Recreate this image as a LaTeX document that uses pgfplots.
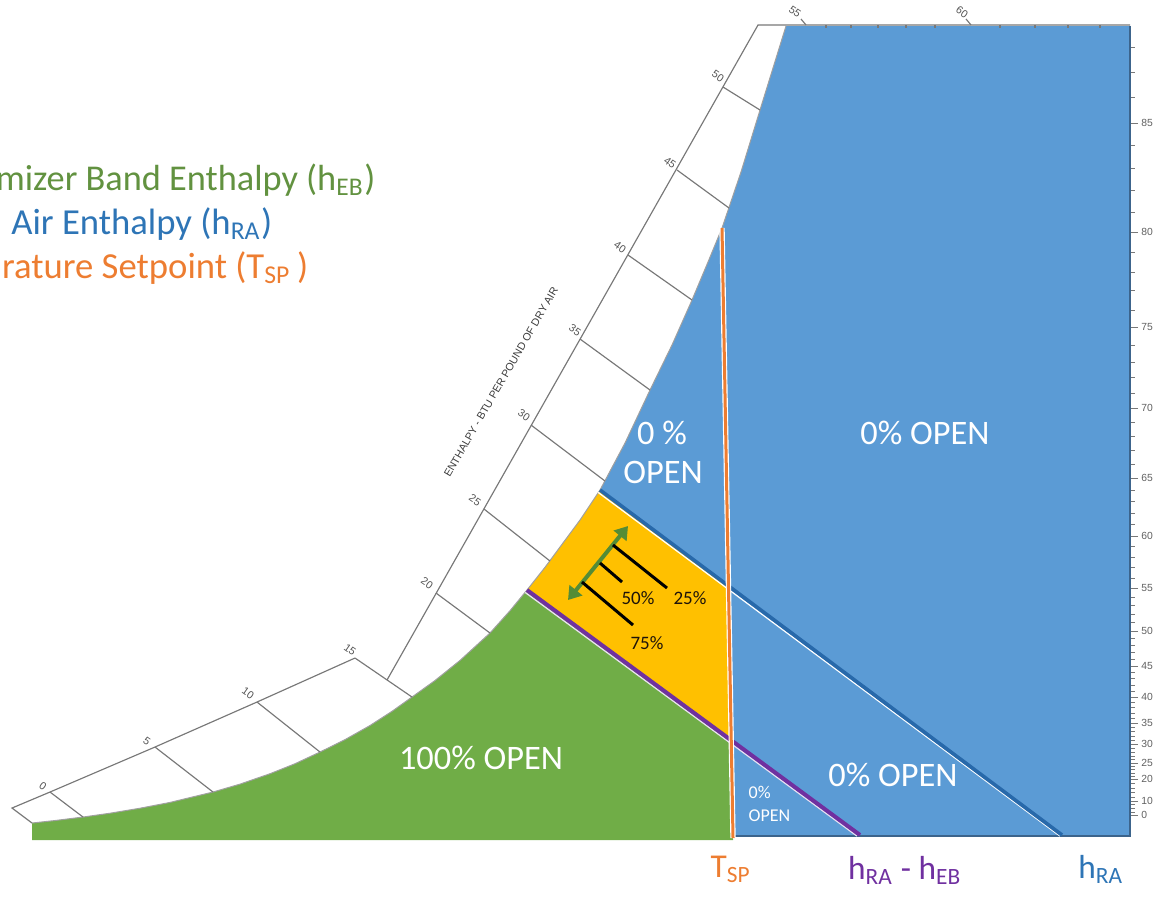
\documentclass[border=0pt]{standalone}
\usepackage{pgfplots}
\pgfplotsset{compat=1.18}
\usepackage{fontspec}
\setmainfont{Carlito}
\newfontfamily\arialf{Liberation Sans}
\usetikzlibrary{arrows.meta}

\definecolor{fillblue}{RGB}{91,155,213}
\definecolor{fillgreen}{RGB}{112,173,71}
\definecolor{fillyellow}{RGB}{255,192,0}
\definecolor{lineorange}{RGB}{237,125,49}
\definecolor{linepurple}{RGB}{112,48,160}
\definecolor{lineblue}{RGB}{40,105,170}
\definecolor{txtblue}{RGB}{46,117,182}
\definecolor{txtgreen}{RGB}{98,146,64}
\definecolor{arrowgreen}{RGB}{84,140,54}
\definecolor{chartgray}{RGB}{120,120,120}
\definecolor{edgeblue}{RGB}{60,100,140}

\newcommand\fsz[1]{\fontsize{#1}{#1}\selectfont}

\begin{document}
\begin{tikzpicture}
\begin{axis}[
    scale only axis,
    width=339pt, height=269.1pt,
    xmin=0, xmax=1130, ymin=0, ymax=897,
    y dir=reverse,
    axis x line=none,
    axis y line*=right,
    y axis line style={draw=none},
    clip=false,
    unbounded coords=jump,
    ytick={123,232,327,408,478,536,588,631,666,697,723,744,763,779,801,815},
    yticklabels={85,80,75,70,65,60,55,50,45,40,35,30,25,20,10,0},
    minor ytick={47,72,97,145,168,190,212,252,272,290,310,345,362,377,393,
        422,436,450,464,490,501,513,524,546,557,567,578,597,605,614,622,
        638,645,652,659,672,678,685,691,702,707,713,718,727,731,736,740,
        748,752,756,759,766,769,773,776,783,788,792,797,804,808,812},
    tick align=outside,
    major tick length=2.4pt,
    minor tick length=1.4pt,
    tick style={draw=chartgray, line width=0.3pt},
    yticklabel style={font=\arialf\fsz{3.1pt}, text=chartgray!80!black, inner sep=0.8pt},
]
\coordinate (BBsw) at (axis cs:0,897);
\coordinate (BBne) at (axis cs:1165,0);

% regions
\addplot[fill=fillblue, draw=none] coordinates {
    (600,490) (625,443) (650,390) (672,345) (692,300) (708,262) (722,228)
    (741,172) (760,110) (786,26) (1130,26) (1130,836) (733,836) (728.5,585.9)} -- cycle;
\addplot[fill=fillyellow, draw=none] coordinates {
    (527,590) (545,567.3) (560,547) (580,520) (600,490) (728.5,585.9) (731.2,740.3)} -- cycle;
\addplot[fill=fillgreen, draw=none] coordinates {
    (32,823) (55,820.5) (83,817) (110,813.2) (140,808.2) (170,802.4) (213,792)
    (240,784.1) (270,773.7) (295,763.7) (320,752) (345,739.6) (370,725.5)
    (392,711.3) (412,697) (435,680.5) (460,660.4) (490,633) (510,610.7)
    (527,590) (731.2,740.3) (733,840) (32,840)} -- cycle;

% borders of the chart
\addplot[edgeblue, line width=0.45pt] coordinates {(1130,26) (1130,836) (733,836)};
\addplot[chartgray!70, line width=0.3pt] coordinates {
    (32,823) (55,820.5) (83,817) (110,813.2) (140,808.2) (170,802.4) (213,792)
    (240,784.1) (270,773.7) (295,763.7) (320,752) (345,739.6) (370,725.5)
    (392,711.3) (412,697) (435,680.5) (460,660.4) (490,633) (510,610.7)
    (527,590) (545,567.3) (560,547) (580,520) (600,490) (625,443) (650,390)
    (672,345) (692,300) (708,262) (722,228) (741,172) (760,110) (786,26)};

% boundary lines
\addplot[white, line width=0.4pt] coordinates {(598.2,492.4) (1060,836)};
\addplot[lineblue, line width=1.1pt] coordinates {(600,490) (1062,835)};
\addplot[white!85!linepurple, line width=0.4pt] coordinates {(525.2,592.4) (857,836)};
\addplot[linepurple, line width=1.2pt] coordinates {(527,590) (860,835)};
\addplot[white, line width=1.6pt] coordinates {(722,228) (733,838)};
\addplot[lineorange, line width=0.9pt] coordinates {(722,228) (733,838)};

% enthalpy scale
\addplot[chartgray, line width=0.35pt] coordinates {
    (32,823) (12,808) (50,792) (155,747) (257,702) (355,658)};
\addplot[chartgray, line width=0.35pt] coordinates {(387,680) (758,25) (1130,25)};
\addplot[chartgray, line width=0.35pt] coordinates {
    (50,792) (83,817) (nan,nan) (155,747) (213,792) (nan,nan)
    (257,702) (320,752) (nan,nan) (355,658) (412,697) (nan,nan)
    (436,593) (490,633) (nan,nan) (484,509) (550,561) (nan,nan)
    (531,425) (605,481) (nan,nan) (580,339) (650,390) (nan,nan)
    (628,255) (692,300) (nan,nan) (677,170) (729,208) (nan,nan)
    (723,87) (760,110) (nan,nan) (801,19) (806,25) (nan,nan)
    (966,19) (971,25)};
\addplot[chartgray, line width=0.35pt] coordinates {
    (826,25) (826,28) (nan,nan) (851,25) (851,28) (nan,nan)
    (878,25) (878,28) (nan,nan) (906,25) (906,28) (nan,nan)
    (935,25) (935,28) (nan,nan) (1000,25) (1000,28) (nan,nan)
    (1035,25) (1035,28) (nan,nan) (1068,25) (1068,28) (nan,nan)
    (1100,25) (1100,28)};
\foreach \lab/\lx/\ly in {0/43/786,5/147/741,10/248/693,15/350/650,20/427/583,
    25/475/500,30/524/415,35/575/330,40/620/247,45/670/163,50/718/76,
    55/795/12,60/962/12} {
  \edef\temp{\noexpand\node[rotate=-35, font=\noexpand\arialf\noexpand\fsz{3.2pt},
      text=chartgray!70!black, inner sep=0pt] at (axis cs:\lx,\ly) {\lab};}
  \temp
}
\node[rotate=60, font=\arialf\fsz{3.2pt}, text=chartgray!50!black, inner sep=0pt]
    at (axis cs:501,382) {ENTHALPY - BTU PER POUND OF DRY AIR};

% damper modulation arrows
\addplot[arrowgreen, line width=1.2pt,
    {Triangle[length=3.8pt,width=4.8pt]}-{Triangle[length=3.8pt,width=4.8pt]}]
    coordinates {(568,600) (628,526)};
\addplot[black, line width=0.9pt] coordinates {
    (613,545) (667,588) (nan,nan) (600,563) (622,582) (nan,nan) (582,582) (633,625)};
\node[font=\fsz{5.7pt}, text=black!85!brown] at (axis cs:638,598) {50\%};
\node[font=\fsz{5.7pt}, text=black!85!brown] at (axis cs:690,598) {25\%};
\node[font=\fsz{5.7pt}, text=black!85!brown] at (axis cs:647,643) {75\%};

% region labels
\node[font=\fsz{10.3pt}, text=white] at (axis cs:662,433) {0 \%};
\node[font=\fsz{10.3pt}, text=white] at (axis cs:663,472) {OPEN};
\node[font=\fsz{10.3pt}, text=white] at (axis cs:925,433) {0\% OPEN};
\node[font=\fsz{10.3pt}, text=white] at (axis cs:481,758) {100\% OPEN};
\node[font=\fsz{10.3pt}, text=white] at (axis cs:893,775) {0\% OPEN};
\node[font=\fsz{5.4pt}, text=white, anchor=west, inner sep=0pt] at (axis cs:748,792) {0\%};
\node[font=\fsz{5.4pt}, text=white, anchor=west, inner sep=0pt] at (axis cs:748,816) {OPEN};

% legend text, as much of it as the reference shows
\node[anchor=east, inner sep=0pt, text=txtgreen, font=\fsz{10.9pt}]
    at (axis cs:376,180) {mizer Band Enthalpy (h\textsubscript{EB})};
\node[anchor=east, inner sep=0pt, text=txtblue, font=\fsz{11pt}]
    at (axis cs:273,224) {Air Enthalpy (h\textsubscript{RA})};
\node[anchor=east, inner sep=0pt, text=lineorange, font=\fsz{11pt}]
    at (axis cs:309,268) {rature Setpoint (T\textsubscript{SP}\,)};

% bottom labels
\node[text=lineorange, font=\fsz{10pt}] at (axis cs:731,869) {T\textsubscript{SP}};
\node[text=linepurple, font=\fsz{10pt}] at (axis cs:905,870) {h\textsubscript{RA} - h\textsubscript{EB}};
\node[text=txtblue, font=\fsz{10pt}] at (axis cs:1101,869) {h\textsubscript{RA}};
\end{axis}
\pgfresetboundingbox
\path[use as bounding box] (BBsw) rectangle (BBne);
\end{tikzpicture}
\end{document}
